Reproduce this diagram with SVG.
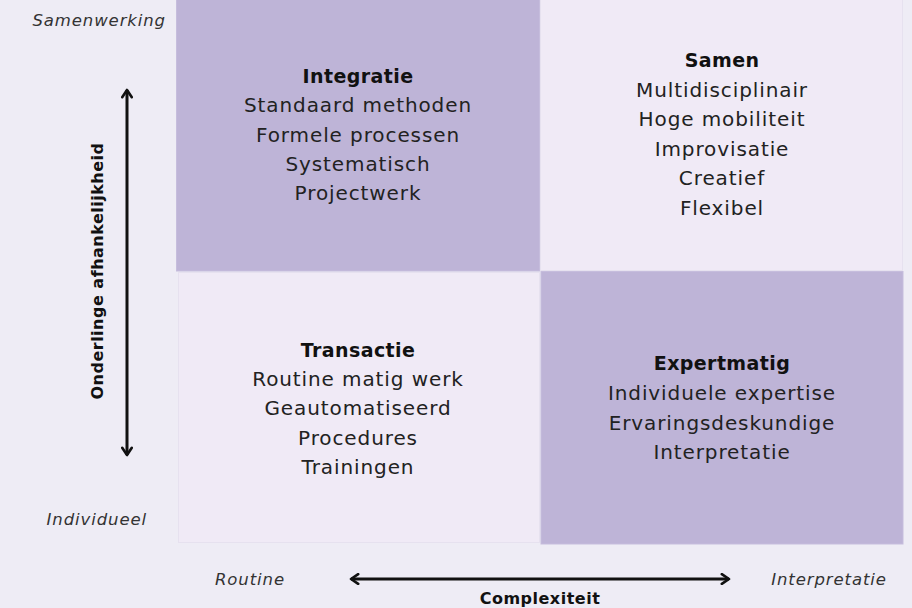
<svg xmlns="http://www.w3.org/2000/svg" width="912" height="608" viewBox="0 0 912 608">
<defs>
<style>
.bg{fill:#EEECF5}
.dark{fill:#BEB4D7;stroke:#C6BDDD;stroke-width:1}
.light{fill:#F0EAF6;stroke:#E6E1EF;stroke-width:1}
.t{font-family:"DejaVu Sans",sans-serif;font-size:20px;letter-spacing:0.9px;fill:#222;text-anchor:middle}
.h{font-family:"DejaVu Sans",sans-serif;font-size:19px;letter-spacing:0.4px;font-weight:bold;fill:#111;text-anchor:middle}
.ax{font-family:"DejaVu Sans",sans-serif;font-size:16.5px;letter-spacing:0.9px;font-style:italic;fill:#333}
.axb{font-family:"DejaVu Sans",sans-serif;font-size:16px;letter-spacing:0.5px;font-weight:bold;fill:#111;text-anchor:middle}
.arr{stroke:#111;stroke-width:3;fill:none;marker-start:url(#hd);marker-end:url(#hd)}
</style>
<marker id="hd" viewBox="0 0 10 10" refX="8" refY="5" markerWidth="4" markerHeight="4" orient="auto-start-reverse" markerUnits="strokeWidth">
<path d="M2,1 L8,5 L2,9" fill="none" stroke="#111" stroke-width="2.2" stroke-linecap="round" stroke-linejoin="round"/>
</marker>
</defs>
<rect class="bg" x="0" y="0" width="912" height="608"/>
<g id="integratie">
<rect class="dark" x="176.5" y="-1" width="363" height="272"/>
<text class="h" x="358" y="83">Integratie</text>
<text class="t" x="358" y="112">Standaard methoden</text>
<text class="t" x="358" y="142">Formele processen</text>
<text class="t" x="358" y="171">Systematisch</text>
<text class="t" x="358" y="200">Projectwerk</text>
</g>
<g id="samen">
<rect class="light" x="540.5" y="-1" width="362" height="271.5"/>
<text class="h" x="722" y="67">Samen</text>
<text class="t" x="722" y="97">Multidisciplinair</text>
<text class="t" x="722" y="126">Hoge mobiliteit</text>
<text class="t" x="722" y="156">Improvisatie</text>
<text class="t" x="722" y="185">Creatief</text>
<text class="t" x="722" y="215">Flexibel</text>
</g>
<g id="transactie">
<rect class="light" x="178.5" y="272.5" width="361" height="270"/>
<text class="h" x="358" y="357">Transactie</text>
<text class="t" x="358" y="386">Routine matig werk</text>
<text class="t" x="358" y="415">Geautomatiseerd</text>
<text class="t" x="358" y="445">Procedures</text>
<text class="t" x="358" y="474">Trainingen</text>
</g>
<g id="expertmatig">
<rect class="dark" x="541" y="271.5" width="362" height="272.5"/>
<text class="h" x="722" y="370">Expertmatig</text>
<text class="t" x="722" y="400">Individuele expertise</text>
<text class="t" x="722" y="430">Ervaringsdeskundige</text>
<text class="t" x="722" y="459">Interpretatie</text>
</g>
<g id="axes">
<text class="ax" x="166" y="26" text-anchor="end">Samenwerking</text>
<text class="ax" x="147" y="525" text-anchor="end">Individueel</text>
<text class="ax" x="250" y="585" text-anchor="middle">Routine</text>
<text class="ax" x="829" y="585" text-anchor="middle">Interpretatie</text>
<text class="axb" x="540" y="604">Complexiteit</text>
<text class="axb" transform="translate(103,271) rotate(-90)">Onderlinge afhankelijkheid</text>
</g>
<g id="connectors">
<line class="arr" x1="127" y1="90" x2="127" y2="455"/>
<line class="arr" x1="351" y1="579" x2="729" y2="579"/>
</g>
</svg>
